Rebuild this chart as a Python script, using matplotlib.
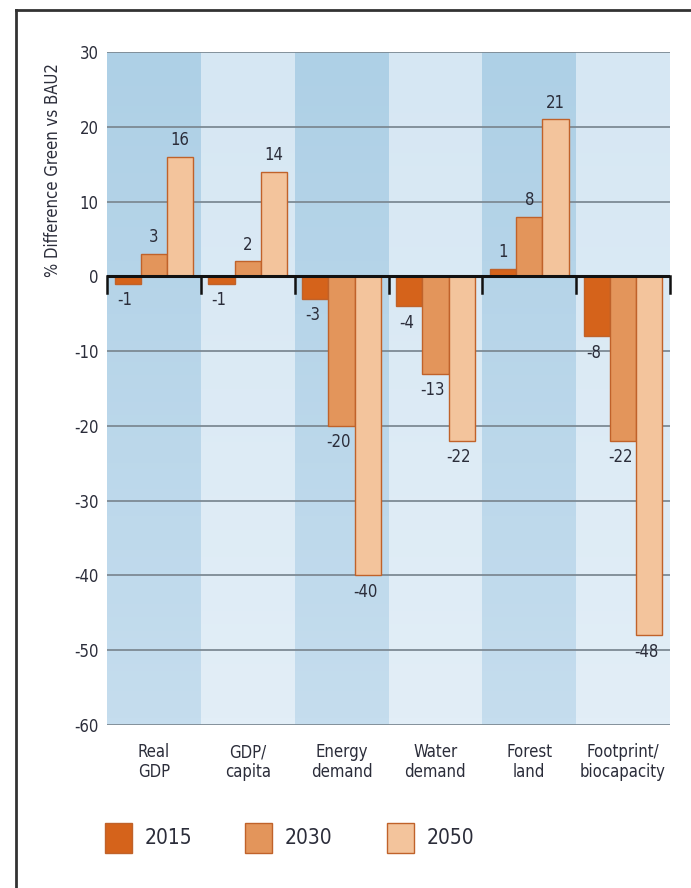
import matplotlib
matplotlib.use('Agg')
import matplotlib.pyplot as plt
import numpy as np
from matplotlib.patches import Rectangle
from matplotlib.lines import Line2D
from matplotlib.colors import LinearSegmentedColormap

plt.rcParams['font.family'] = ['DejaVu Sans']
plt.rcParams['font.stretch'] = 'condensed'

categories = ['Real\nGDP', 'GDP/\ncapita', 'Energy\ndemand', 'Water\ndemand', 'Forest\nland', 'Footprint/\nbiocapacity']
years = ['2015', '2030', '2050']
v2015 = [-1, -1, -3, -4, 1, -8]
v2030 = [3, 2, -20, -13, 8, -22]
v2050 = [16, 14, -40, -22, 21, -48]
yticks = [30, 20, 10, 0, -10, -20, -30, -40, -50, -60]

C_BARS = ['#d5631b', '#e3955b', '#f3c49c']
C_EDGE = '#c0622a'
C_TEXT = '#2b2d3a'
C_GRID = '#7d8a94'

fig = plt.figure(figsize=(6.91, 8.88), dpi=100)
fig.patch.set_facecolor('white')
ax = fig.add_axes([107/691, 1-725/888, 563/691, 673/888])
ax.set_xlim(-0.5, 5.5)
ax.set_ylim(-60, 30)

# background bands, soft vertical gradient (lighter at the bottom)
dark = LinearSegmentedColormap.from_list('dk', ['#c5ddee', '#aed0e6'])
light = LinearSegmentedColormap.from_list('lt', ['#e2eef7', '#d6e7f3'])
grad = np.linspace(0, 1, 100).reshape(-1, 1)
for i in range(len(categories)):
    ax.imshow(grad, cmap=dark if i % 2 == 0 else light, aspect='auto',
              origin='lower', extent=(i-0.5, i+0.5, -60, 30), zorder=0)

# grid
for y in yticks:
    if y != 0:
        ax.axhline(y, color=C_GRID, lw=1.3, zorder=1)

x = np.arange(len(categories))
w = 0.28
series = [v2015, v2030, v2050]
for k, vals in enumerate(series):
    xs = x + (k-1)*w
    ax.bar(xs, vals, width=w, color=C_BARS[k], edgecolor=C_EDGE, lw=1.0, zorder=3)
    for xi, v in zip(xs, vals):
        if v >= 0:
            ax.text(xi, v + 1.0, str(v), ha='center', va='bottom',
                    fontsize=12, color=C_TEXT, zorder=5)
        else:
            ax.text(xi - 0.03, v - 1.0, str(v), ha='center', va='top',
                    fontsize=12, color=C_TEXT, zorder=5)

# zero line with downward ticks at band edges
ax.axhline(0, color='#111111', lw=2.2, zorder=4)
for b in np.arange(-0.5, 6.0, 1.0):
    ax.plot([b, b], [0, -2.2], color='#111111', lw=1.8, zorder=4, clip_on=False)

for s in ax.spines.values():
    s.set_visible(False)
ax.set_yticks(yticks)
ax.set_yticklabels([str(t) for t in yticks], fontsize=12, color=C_TEXT)
ax.set_xticks(x)
ax.set_xticklabels(categories, fontsize=12, color=C_TEXT, linespacing=1.15)
ax.tick_params(axis='y', length=0, pad=6)
ax.tick_params(axis='x', length=0, pad=13)

fig.text(53/691, 1-170/888, '% Difference Green vs BAU2', rotation=90,
         ha='center', va='center', fontsize=12, color=C_TEXT)

# legend
lx = [105, 245, 387]
for k, yr in enumerate(years):
    fig.patches.append(Rectangle((lx[k]/691, 1-853/888), 27/691, 30/888,
                                 transform=fig.transFigure, facecolor=C_BARS[k],
                                 edgecolor=C_EDGE, lw=1.0))
    fig.text((lx[k]+40)/691, 1-838/888, yr, ha='left', va='center',
             fontsize=15, color=C_TEXT)

# frame lines (top and left)
fig.add_artist(Line2D([16/691, 1.0], [1-10/888, 1-10/888], color='#333333', lw=2,
                      transform=fig.transFigure))
fig.add_artist(Line2D([16/691, 16/691], [1-10/888, 0.0], color='#333333', lw=2,
                      transform=fig.transFigure))

fig.savefig('out.png', dpi=100, facecolor='white')
